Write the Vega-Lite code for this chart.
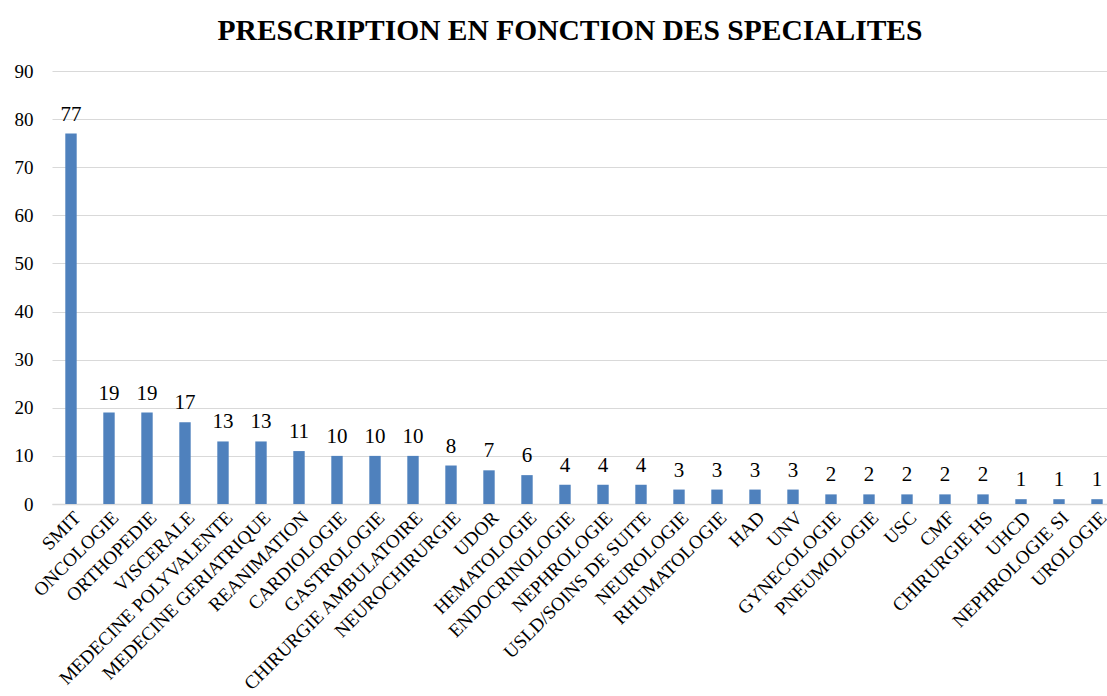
{
  "$schema": "https://vega.github.io/schema/vega-lite/v6.json",
  "autosize": "none",
  "width": 1064,
  "height": 433,
  "padding": {"left": 52, "top": 71, "right": 0, "bottom": 192},
  "background": "white",
  "title": {
    "text": "PRESCRIPTION EN FONCTION DES SPECIALITES",
    "font": "Liberation Serif",
    "fontSize": 29.5,
    "fontWeight": "bold",
    "color": "#000000",
    "anchor": "middle",
    "dx": -14,
    "offset": 16
  },
  "data": {
    "values": [
      {"specialite": "SMIT", "n": 77},
      {"specialite": "ONCOLOGIE", "n": 19},
      {"specialite": "ORTHOPEDIE", "n": 19},
      {"specialite": "VISCERALE", "n": 17},
      {"specialite": "MEDECINE POLYVALENTE", "n": 13},
      {"specialite": "MEDECINE GERIATRIQUE", "n": 13},
      {"specialite": "REANIMATION", "n": 11},
      {"specialite": "CARDIOLOGIE", "n": 10},
      {"specialite": "GASTROLOGIE", "n": 10},
      {"specialite": "CHIRURGIE AMBULATOIRE", "n": 10},
      {"specialite": "NEUROCHIRURGIE", "n": 8},
      {"specialite": "UDOR", "n": 7},
      {"specialite": "HEMATOLOGIE", "n": 6},
      {"specialite": "ENDOCRINOLOGIE", "n": 4},
      {"specialite": "NEPHROLOGIE", "n": 4},
      {"specialite": "USLD/SOINS DE SUITE", "n": 4},
      {"specialite": "NEUROLOGIE", "n": 3},
      {"specialite": "RHUMATOLOGIE", "n": 3},
      {"specialite": "HAD", "n": 3},
      {"specialite": "UNV", "n": 3},
      {"specialite": "GYNECOLOGIE", "n": 2},
      {"specialite": "PNEUMOLOGIE", "n": 2},
      {"specialite": "USC", "n": 2},
      {"specialite": "CMF", "n": 2},
      {"specialite": "CHIRURGIE HS", "n": 2},
      {"specialite": "UHCD", "n": 1},
      {"specialite": "NEPHROLOGIE SI", "n": 1},
      {"specialite": "UROLOGIE", "n": 1}
    ]
  },
  "encoding": {
    "x": {
      "field": "specialite",
      "type": "nominal",
      "sort": null,
      "scale": {"paddingInner": 0.7, "paddingOuter": 0.35},
      "axis": {
        "title": null,
        "labelAngle": -45,
        "labelFont": "Liberation Serif",
        "labelFontSize": 19,
        "labelColor": "#000000",
        "labelPadding": 4,
        "ticks": false,
        "domainColor": "#d9d9d9",
        "domainWidth": 1.5,
        "grid": false,
        "labelLimit": 400
      }
    },
    "y": {
      "field": "n",
      "type": "quantitative",
      "scale": {"domain": [0, 90], "nice": false},
      "axis": {
        "title": null,
        "values": [0, 10, 20, 30, 40, 50, 60, 70, 80, 90],
        "labelFont": "Liberation Serif",
        "labelFontSize": 19,
        "labelColor": "#000000",
        "labelPadding": 19,
        "ticks": false,
        "domain": false,
        "gridColor": "#d9d9d9",
        "gridWidth": 1.2
      }
    }
  },
  "layer": [
    {"mark": {"type": "bar", "color": "#4f81bd"}},
    {
      "mark": {
        "type": "text",
        "font": "Liberation Serif",
        "fontSize": 21,
        "color": "#000000",
        "baseline": "alphabetic",
        "dy": -13
      },
      "encoding": {"text": {"field": "n", "type": "quantitative"}}
    }
  ],
  "config": {"view": {"stroke": null}}
}
